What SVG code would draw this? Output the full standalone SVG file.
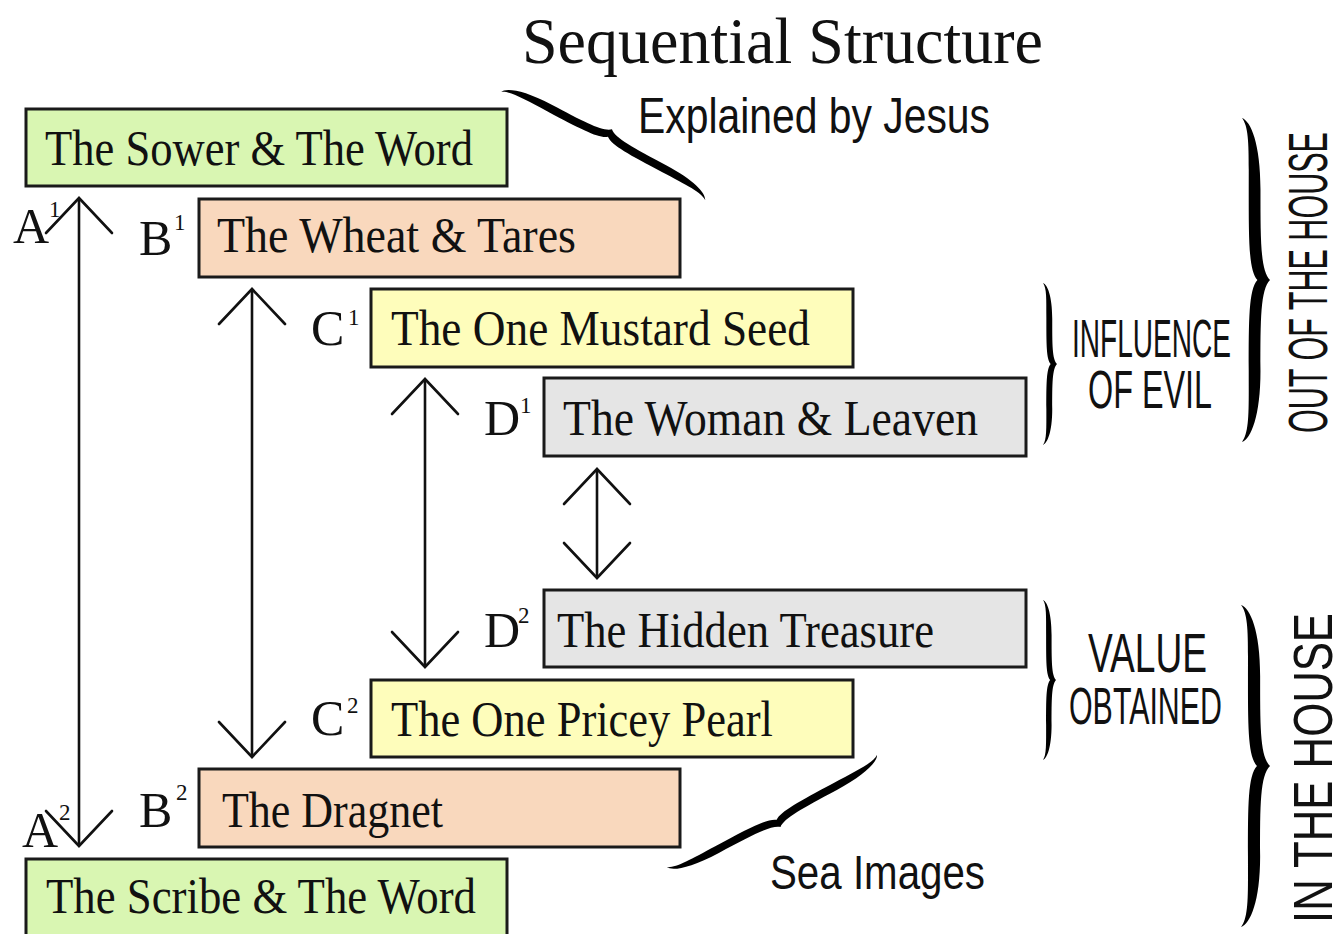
<svg xmlns="http://www.w3.org/2000/svg" xmlns:xlink="http://www.w3.org/1999/xlink" width="1343" height="934" viewBox="0 0 1343 934">
<style>
.box{stroke:#1a1a1a;stroke-width:3}
.green{fill:#d9f6b2}.peach{fill:#f9d8bd}.yellow{fill:#fefdbb}.gray{fill:#e5e5e5}
.bt{font-family:"Liberation Serif","DejaVu Serif",serif;font-size:50px;fill:#111}
.lb{font-family:"Liberation Serif","DejaVu Serif",serif;font-size:50px;fill:#111}
.sup{font-family:"Liberation Serif","DejaVu Serif",serif;font-size:23px;fill:#111}
.ss{font-family:"Liberation Sans Narrow","Liberation Sans","Arial",sans-serif;fill:#111}
.conn line{stroke:#111;stroke-width:2.6;fill:none}
.brace{fill:#000}
</style>
<defs>
<marker id="chev" viewBox="-40 -40 80 80" markerWidth="80" markerHeight="80" markerUnits="userSpaceOnUse" refX="0" refY="0" orient="auto-start-reverse" overflow="visible">
<path d="M-35,-33 L0,0 L-35,33" fill="none" stroke="#111" stroke-width="2.6" stroke-linecap="round" stroke-linejoin="miter"/>
</marker>
<path id="br" d="M0,0 C1,-3.2 8,-6.6 22,-6.6 C38,-6.6 47,-6.6 50,-10 C53,-6.6 62,-6.6 78,-6.6 C92,-6.6 99,-3.2 100,0 C97,-2.7 90,-2.4 78,-2.4 C62,-2.4 53,-2.4 50,-5.5 C47,-2.4 38,-2.4 22,-2.4 C10,-2.4 3,-2.7 0,0 Z"/>
</defs>
<rect width="1343" height="934" fill="#ffffff"/>

<g id="title">
<text x="522" y="63" font-family="'Liberation Serif','DejaVu Serif',serif" font-size="66" fill="#111" textLength="521" lengthAdjust="spacingAndGlyphs">Sequential Structure</text>
</g>

<g id="node-a1">
<rect class="box green" x="26" y="109" width="481" height="77"/>
<text class="bt" x="45" y="165" textLength="428" lengthAdjust="spacingAndGlyphs">The Sower &amp; The Word</text>
</g>
<g id="node-b1">
<rect class="box peach" x="199" y="199" width="481" height="78"/>
<text class="bt" x="217" y="252" textLength="359" lengthAdjust="spacingAndGlyphs">The Wheat &amp; Tares</text>
</g>
<g id="node-c1">
<rect class="box yellow" x="371" y="289" width="482" height="78"/>
<text class="bt" x="391" y="345" textLength="419" lengthAdjust="spacingAndGlyphs">The One Mustard Seed</text>
</g>
<g id="node-d1">
<rect class="box gray" x="544" y="378" width="482" height="78"/>
<text class="bt" x="563" y="435" textLength="415" lengthAdjust="spacingAndGlyphs">The Woman &amp; Leaven</text>
</g>
<g id="node-d2">
<rect class="box gray" x="544" y="590" width="482" height="77"/>
<text class="bt" x="557" y="647" textLength="377" lengthAdjust="spacingAndGlyphs">The Hidden Treasure</text>
</g>
<g id="node-c2">
<rect class="box yellow" x="371" y="680" width="482" height="77"/>
<text class="bt" x="391" y="736" textLength="382" lengthAdjust="spacingAndGlyphs">The One Pricey Pearl</text>
</g>
<g id="node-b2">
<rect class="box peach" x="199" y="769" width="481" height="78"/>
<text class="bt" x="222" y="827" textLength="221" lengthAdjust="spacingAndGlyphs">The Dragnet</text>
</g>
<g id="node-a2">
<rect class="box green" x="26" y="859" width="481" height="80"/>
<text class="bt" x="46" y="913" textLength="430" lengthAdjust="spacingAndGlyphs">The Scribe &amp; The Word</text>
</g>

<g id="labels">
<text class="lb" x="13" y="243">A</text><text class="sup" x="49" y="217">1</text>
<text class="lb" x="139" y="255">B</text><text class="sup" x="174" y="230">1</text>
<text class="lb" x="311" y="345">C</text><text class="sup" x="348" y="325">1</text>
<text class="lb" x="484" y="435">D</text><text class="sup" x="520" y="413">1</text>
<text class="lb" x="484" y="647">D</text><text class="sup" x="518" y="623">2</text>
<text class="lb" x="311" y="735">C</text><text class="sup" x="347" y="713">2</text>
<text class="lb" x="139" y="827">B</text><text class="sup" x="176" y="800">2</text>
<text class="lb" x="22" y="847">A</text><text class="sup" x="59" y="820">2</text>
</g>

<g id="connectors" class="conn">
<line x1="79" y1="198" x2="79" y2="846" marker-start="url(#chev)" marker-end="url(#chev)"/>
<line x1="252" y1="289" x2="252" y2="757" marker-start="url(#chev)" marker-end="url(#chev)"/>
<line x1="425" y1="379" x2="425" y2="667" marker-start="url(#chev)" marker-end="url(#chev)"/>
<line x1="597" y1="469" x2="597" y2="578" marker-start="url(#chev)" marker-end="url(#chev)"/>
</g>

<g id="braces" class="brace">
<use xlink:href="#br" href="#br" transform="translate(501,92) rotate(27.9) scale(2.31,1.9)"/>
<use xlink:href="#br" href="#br" transform="translate(877,755) rotate(151.9) scale(2.38,1.8)"/>
<use xlink:href="#br" href="#br" transform="translate(1043,283) rotate(90) scale(1.62,1.4)"/>
<use xlink:href="#br" href="#br" transform="translate(1043,600) rotate(90) scale(1.6,1.3)"/>
<use xlink:href="#br" href="#br" transform="translate(1242,118) rotate(90) scale(3.24,2.8)"/>
<use xlink:href="#br" href="#br" transform="translate(1241,605) rotate(90) scale(3.22,2.9)"/>
</g>

<g id="group-labels">
<text class="ss" x="638" y="133" font-size="50" textLength="352" lengthAdjust="spacingAndGlyphs">Explained by Jesus</text>
<text class="ss" x="770" y="889" font-size="48" textLength="215" lengthAdjust="spacingAndGlyphs">Sea Images</text>
<text class="ss" x="1072" y="357" font-size="54" textLength="159" lengthAdjust="spacingAndGlyphs">INFLUENCE</text>
<text class="ss" x="1088" y="408" font-size="54" textLength="124" lengthAdjust="spacingAndGlyphs">OF EVIL</text>
<text class="ss" x="1088" y="672" font-size="56" textLength="119" lengthAdjust="spacingAndGlyphs">VALUE</text>
<text class="ss" x="1069" y="724" font-size="52" textLength="153" lengthAdjust="spacingAndGlyphs">OBTAINED</text>
<text class="ss" transform="translate(1327,433) rotate(-90)" x="0" y="0" font-size="56" textLength="301" lengthAdjust="spacingAndGlyphs">OUT OF THE HOUSE</text>
<text class="ss" transform="translate(1332,923) rotate(-90)" x="0" y="0" font-size="56" textLength="310" lengthAdjust="spacingAndGlyphs">IN THE HOUSE</text>
</g>
</svg>
